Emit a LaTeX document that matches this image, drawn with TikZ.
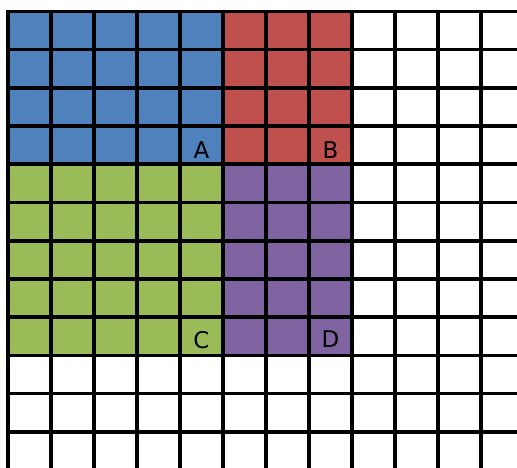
\documentclass[tikz,border=0pt]{standalone}
\usepackage{fontspec}
\setmainfont{DejaVu Sans}
\definecolor{cblue}{HTML}{4F81BD}
\definecolor{cred}{HTML}{C0504D}
\definecolor{cgreen}{HTML}{9BBB59}
\definecolor{cpurple}{HTML}{8064A2}
\tikzset{
  gridline/.style={line width=3.6pt, black, line cap=rect},
  lbl/.style={inner sep=0pt, font=\fontsize{23}{23}\selectfont, text=black}
}
\begin{document}
\begin{tikzpicture}[x=1pt,y=-1pt]
\useasboundingbox (0,0) rectangle (517,468);
% coloured blocks
\fill[cblue]   (8,11.5) rectangle (8+5*43, 11.5+4*38.2);
\fill[cred]    (8+5*43,11.5) rectangle (8+8*43, 11.5+4*38.2);
\fill[cgreen]  (8,11.5+4*38.2) rectangle (8+5*43, 11.5+9*38.2);
\fill[cpurple] (8+5*43,11.5+4*38.2) rectangle (8+8*43, 11.5+9*38.2);
% grid
\foreach \i in {0,...,11}
  \draw[gridline] (8+\i*43, 11.5) -- (8+\i*43, 475);
\foreach \j in {0,...,11}
  \draw[gridline] (8, 11.5+\j*38.2) -- (525, 11.5+\j*38.2);
% labels
\node[lbl] (A) at (8+4.5*43, 11.5+3.5*38.2+5) {A};
\node[lbl] (B) at (8+7.5*43, 11.5+3.5*38.2+5) {B};
\node[lbl] (C) at (8+4.5*43, 11.5+8.5*38.2+4) {C};
\node[lbl] (D) at (8+7.5*43, 11.5+8.5*38.2+3) {D};
\end{tikzpicture}
\end{document}
